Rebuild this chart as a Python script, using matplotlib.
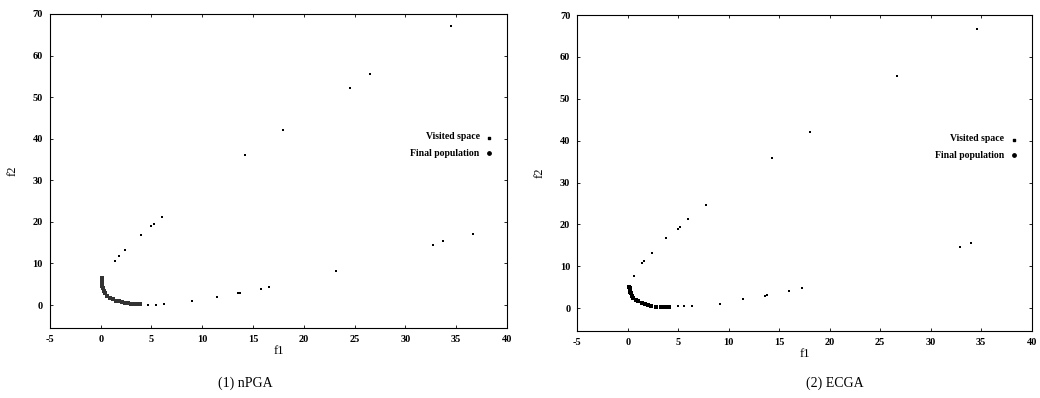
import matplotlib
matplotlib.use("Agg")
import matplotlib.pyplot as plt


# (1) nPGA
npga_visited_f1 = [34.5, 26.5, 24.5, 17.9, 14.2, 6.0, 5.2, 5.0, 4.0, 2.4, 1.8, 1.4,
                   36.7, 33.7, 32.7, 23.2, 16.6, 15.8, 13.7, 13.5, 11.4, 9.0, 6.2, 5.4, 4.7]
npga_visited_f2 = [67.1, 55.5, 52.1, 42.1, 36.1, 21.1, 19.5, 19.0, 16.8, 13.2, 11.9, 10.6,
                   17.1, 15.4, 14.4, 8.3, 4.3, 3.9, 3.0, 2.8, 2.0, 1.0, 0.2, 0.1, 0.1]
npga_final_f1 = [0.15, 0.1, 0.1, 0.15, 0.2, 0.3, 0.45, 0.65, 0.9, 1.2, 1.5, 1.8, 2.1,
                 2.4, 2.7, 3.0, 3.3, 3.6, 3.9]
npga_final_f2 = [6.4, 5.8, 5.2, 4.6, 4.0, 3.4, 2.8, 2.3, 1.8, 1.4, 1.1, 0.9, 0.7,
                 0.55, 0.4, 0.3, 0.25, 0.2, 0.2]

# (2) ECGA
ecga_visited_f1 = [34.6, 26.7, 18.1, 14.3, 7.8, 6.0, 5.2, 5.0, 3.8, 2.4, 1.6, 1.4, 0.67,
                   34.0, 32.9, 17.3, 16.0, 13.8, 13.6, 11.4, 9.1, 6.4, 5.6, 5.0]
ecga_visited_f2 = [66.8, 55.4, 42.1, 35.9, 24.6, 21.3, 19.4, 19.0, 16.7, 13.2, 11.2, 10.8, 7.6,
                   15.6, 14.6, 4.7, 4.1, 3.1, 2.9, 2.1, 1.0, 0.5, 0.4, 0.4]
ecga_final_f1 = [0.17, 0.2, 0.22, 0.24, 0.3, 0.4, 0.55, 0.8, 1.06, 1.4, 1.7, 2.0, 2.35,
                 2.8, 3.3, 3.7, 4.1]
ecga_final_f2 = [5.1, 4.7, 4.3, 3.9, 3.5, 3.0, 2.5, 2.0, 1.67, 1.25, 0.9, 0.7, 0.5,
                 0.35, 0.25, 0.24, 0.24]

x_ticks = [-5, 0, 5, 10, 15, 20, 25, 30, 35, 40]
y_ticks = [0, 10, 20, 30, 40, 50, 60, 70]
captions = ["(1) nPGA", "(2) ECGA"]

plt.rcParams['font.family'] = ['Liberation Serif', 'DejaVu Serif']
plt.rcParams['axes.unicode_minus'] = False

fig = plt.figure(figsize=(10.4, 3.98), dpi=100)

boxes = [[0.048, 0.176, 0.4395, 0.789], [0.555, 0.168, 0.437, 0.794]]
panels = [(npga_visited_f1, npga_visited_f2, npga_final_f1, npga_final_f2, '#333333'),
          (ecga_visited_f1, ecga_visited_f2, ecga_final_f1, ecga_final_f2, 'black')]

for i in range(2):
    vx, vy, fx, fy, fcol = panels[i]
    ax = fig.add_axes(boxes[i])

    ax.scatter(vx, vy, s=0.6, color='black', marker='s', linewidths=0, label='Visited space')
    ax.scatter(fx, fy, s=8, color=fcol, marker='s', linewidths=0, label='Final population')

    ax.set_xlim(-5, 40)
    ax.set_ylim(-5.5, 70)
    ax.set_xticks(x_ticks)
    ax.set_yticks(y_ticks)
    ax.tick_params(direction='in', length=2, width=0.6, top=True, right=True,
                   labelsize=7.5, pad=5)
    for lab in ax.get_xticklabels() + ax.get_yticklabels():
        lab.set_fontweight('bold')
    for sp in ax.spines.values():
        sp.set_linewidth(0.8)

    ax.set_xlabel('f1', fontsize=9, labelpad=1)
    ax.set_ylabel('f2', fontsize=9, labelpad=10)

    # legend drawn as in the scan: right-aligned text, marker after it
    ax.text(0.94, 0.611, 'Visited space', transform=ax.transAxes, fontsize=7,
            fontweight='bold', ha='right', va='center')
    ax.text(0.94, 0.557, 'Final population', transform=ax.transAxes, fontsize=7,
            fontweight='bold', ha='right', va='center')
    ax.scatter([0.96], [0.606], s=0.6, color='black', marker='s', transform=ax.transAxes)
    ax.scatter([0.96], [0.557], s=6, color='black', marker='o', transform=ax.transAxes)

fig.text(0.236, 0.038, captions[0], fontsize=10, ha='center', va='center')
fig.text(0.803, 0.038, captions[1], fontsize=10, ha='center', va='center')

fig.savefig('out.png', dpi=100)
plt.close(fig)
